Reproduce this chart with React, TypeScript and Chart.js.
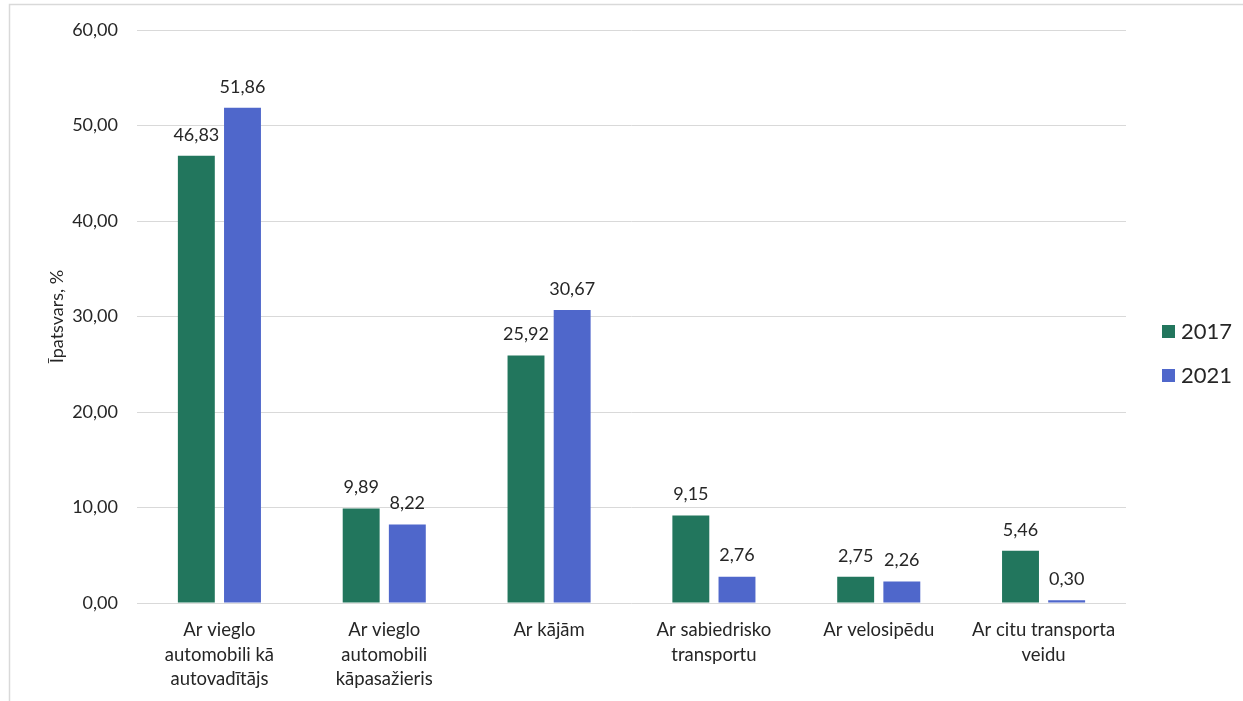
import React, { useEffect, useRef } from "react";
import { Chart, registerables } from "chart.js";

Chart.register(...registerables);

const categories: string[][] = [
  ["Ar vieglo", "automobili kā", "autovadītājs"],
  ["Ar vieglo", "automobili", "kāpasažieris"],
  ["Ar kājām"],
  ["Ar sabiedrisko", "transportu"],
  ["Ar velosipēdu"],
  ["Ar citu transporta", "veidu"],
];
const seriesNames = ["2017", "2021"];
const values2017 = [46.83, 9.89, 25.92, 9.15, 2.75, 5.46];
const values2021 = [51.86, 8.22, 30.67, 2.76, 2.26, 0.3];
const yTitle = "Īpatsvars, %";

const GREEN = "#22765D";
const BLUE = "#4F67CB";
const FONT = "Lato, 'Open Sans', sans-serif";

const fmt = (v: number) => v.toFixed(2).replace(".", ",");

export default function App() {
  const ref = useRef<HTMLCanvasElement | null>(null);

  useEffect(() => {
    document.body.style.margin = "0";
    const canvas = ref.current;
    if (!canvas) return;

    const framePlugin = {
      id: "frame",
      beforeDraw(chart: any) {
        const ctx = chart.ctx;
        ctx.save();
        ctx.fillStyle = "#ffffff";
        ctx.fillRect(0, 0, chart.width, chart.height);
        ctx.strokeStyle = "#d9d9d9";
        ctx.lineWidth = 1.5;
        ctx.strokeRect(9.5, 4.5, 3000, 3000);
        ctx.restore();
      },
    };

    const labelPlugin = {
      id: "valueLabels",
      afterDatasetsDraw(chart: any) {
        const ctx = chart.ctx;
        ctx.save();
        ctx.font = `18px ${FONT}`;
        ctx.fillStyle = "#262626";
        ctx.textAlign = "center";
        ctx.textBaseline = "middle";
        chart.data.datasets.forEach((ds: any, i: number) => {
          const meta = chart.getDatasetMeta(i);
          meta.data.forEach((bar: any, j: number) => {
            ctx.fillText(fmt(ds.data[j]), bar.x, bar.y - 21);
          });
        });
        ctx.restore();
      },
    };

    const legendPlugin = {
      id: "sideLegend",
      afterDraw(chart: any) {
        const ctx = chart.ctx;
        ctx.save();
        ctx.font = `22px ${FONT}`;
        ctx.textAlign = "left";
        ctx.textBaseline = "middle";
        chart.data.datasets.forEach((ds: any, i: number) => {
          const cy = 332 + i * 44;
          ctx.fillStyle = ds.backgroundColor;
          ctx.fillRect(1162, cy - 7, 13, 13);
          ctx.fillStyle = "#262626";
          ctx.fillText(ds.label, 1181, cy);
        });
        ctx.restore();
      },
    };

    const chart = new Chart(canvas, {
      type: "bar",
      data: {
        labels: categories,
        datasets: [
          {
            label: seriesNames[0],
            data: values2017,
            backgroundColor: GREEN,
            categoryPercentage: 0.56,
            barPercentage: 0.8,
          },
          {
            label: seriesNames[1],
            data: values2021,
            backgroundColor: BLUE,
            categoryPercentage: 0.56,
            barPercentage: 0.8,
          },
        ],
      },
      options: {
        animation: false,
        responsive: true,
        maintainAspectRatio: false,
        layout: { padding: { left: 10, right: 117, top: 30, bottom: 0 } },
        plugins: {
          legend: { display: false },
          tooltip: { enabled: false },
        },
        scales: {
          x: {
            grid: { display: false, drawTicks: false },
            border: { display: false },
            ticks: {
              color: "#262626",
              font: { family: FONT, size: 18.5, lineHeight: 1.33 },
              padding: 15,
              maxRotation: 0,
              autoSkip: false,
            },
            afterFit(scale: any) {
              scale.height = 98;
            },
          },
          y: {
            min: 0,
            max: 60,
            grid: { color: "#d9d9d9", lineWidth: 1, drawTicks: false },
            border: { display: false },
            ticks: {
              stepSize: 10,
              color: "#262626",
              font: { family: FONT, size: 18 },
              padding: 19,
              callback: (v: any) => fmt(Number(v)),
            },
            title: {
              display: true,
              text: yTitle,
              color: "#262626",
              font: { family: FONT, size: 18 },
              padding: { top: 36, bottom: 0 },
            },
            afterFit(scale: any) {
              scale.width = 127;
            },
          },
        },
      },
      plugins: [framePlugin, labelPlugin, legendPlugin],
    });

    return () => chart.destroy();
  }, []);

  return (
    <div style={{ position: "relative", width: 1243, height: 701 }}>
      <canvas ref={ref} />
    </div>
  );
}
